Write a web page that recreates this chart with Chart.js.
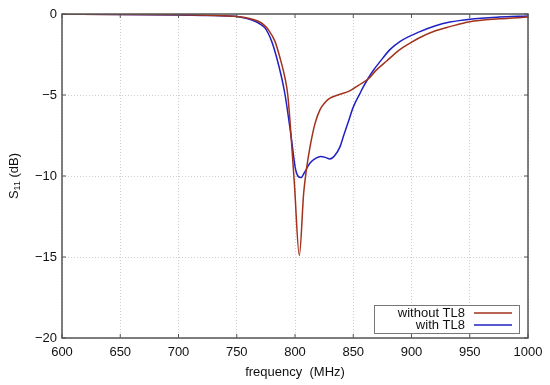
<!DOCTYPE html>
<html>
<head>
<meta charset="utf-8">
<script src="https://cdn.jsdelivr.net/npm/chart.js@4/dist/chart.umd.min.js"></script>
<style>
  html, body { margin: 0; padding: 0; background: #fff; }
  #wrap { width: 550px; height: 385px; }
</style>
</head>
<body>
<div id="wrap"><canvas id="s11Chart" width="550" height="385"></canvas></div>
<script>
// series
const freqWithout = [600, 650, 700, 730, 750, 760, 768.5, 773, 777.1, 782.8, 787.1, 791.4, 793.8, 796, 799.5, 803.7, 807.5, 810, 812.9, 817.2, 821.5, 826, 830, 837, 847, 854.5, 863, 870, 878.7, 890, 898.7, 907.3, 920, 933, 950, 975, 1000];
const s11Without = [-0.02, -0.03, -0.05, -0.09, -0.16, -0.26, -0.45, -0.66, -0.97, -1.69, -2.7, -3.95, -5.0, -6.9, -10.5, -14.9, -11.0, -9.5, -8.2, -6.75, -5.9, -5.45, -5.2, -5.0, -4.75, -4.4, -4.0, -3.45, -2.9, -2.2, -1.8, -1.45, -1.05, -0.78, -0.48, -0.3, -0.19];

const freqWith = [600, 650, 700, 730, 748.5, 758, 765.7, 770, 774.2, 780, 784.3, 788.6, 791.5, 797.1, 800, 802.5, 805.2, 808, 812.9, 818, 822, 826, 830, 834, 838.6, 842, 846, 850, 855.8, 858.6, 863, 867, 873, 881.5, 890, 907.3, 920, 933, 950, 975, 1000];
const s11With = [-0.02, -0.03, -0.06, -0.1, -0.14, -0.27, -0.45, -0.62, -0.86, -1.69, -2.7, -3.95, -5.0, -7.8, -9.4, -10.0, -10.1, -9.8, -9.2, -8.9, -8.8, -8.85, -8.95, -8.75, -8.2, -7.45, -6.6, -5.75, -4.9, -4.5, -3.95, -3.5, -2.94, -2.2, -1.7, -1.09, -0.74, -0.5, -0.32, -0.19, -0.12];

const xTicks = [600, 650, 700, 750, 800, 850, 900, 950, 1000];
const yTicks = [0, -5, -10, -15, -20];
const seriesNames = ['without TL8', 'with TL8'];

const FONT = '"Liberation Sans", Arial, sans-serif';
const RED = '#a2321c';
const BLUE = '#2020c4';

function toPoints(xs, ys) {
    return xs.map((x, i) => ({ x: x, y: ys[i] }));
}

// frame, inward ticks, axis titles and legend box
const framePlugin = {
    id: 'frame',
    afterDraw(chart) {
        const ctx = chart.ctx;
        const a = chart.chartArea;
        const xs = chart.scales.x;
        const ys = chart.scales.y;
        ctx.save();
        ctx.strokeStyle = '#555';
        ctx.lineWidth = 1.5;
        ctx.strokeRect(a.left, a.top, a.right - a.left, a.bottom - a.top);

        ctx.lineWidth = 1;
        xTicks.forEach(v => {
            const px = xs.getPixelForValue(v);
            ctx.beginPath();
            ctx.moveTo(px, a.bottom); ctx.lineTo(px, a.bottom - 4);
            ctx.moveTo(px, a.top); ctx.lineTo(px, a.top + 4);
            ctx.stroke();
        });
        yTicks.forEach(v => {
            const py = ys.getPixelForValue(v);
            ctx.beginPath();
            ctx.moveTo(a.left, py); ctx.lineTo(a.left + 4, py);
            ctx.moveTo(a.right, py); ctx.lineTo(a.right - 4, py);
            ctx.stroke();
        });

        // x title
        ctx.fillStyle = '#111';
        ctx.font = '13px ' + FONT;
        ctx.textAlign = 'center';
        ctx.textBaseline = 'middle';
        ctx.fillText('frequency  (MHz)', (a.left + a.right) / 2, 372);

        // y title with subscript
        ctx.translate(14, 176);
        ctx.rotate(-Math.PI / 2);
        const w1 = ctx.measureText('S').width;
        ctx.font = '9px ' + FONT;
        const w2 = ctx.measureText('11').width;
        ctx.font = '13px ' + FONT;
        const w3 = ctx.measureText(' (dB)').width;
        let sx = -(w1 + w2 + w3) / 2;
        ctx.textAlign = 'left';
        ctx.fillText('S', sx, 0);
        sx += w1;
        ctx.font = '9px ' + FONT;
        ctx.fillText('11', sx, 4);
        sx += w2;
        ctx.font = '13px ' + FONT;
        ctx.fillText(' (dB)', sx, 0);
        ctx.restore();

        // legend
        ctx.save();
        ctx.fillStyle = '#fff';
        ctx.fillRect(374, 305, 145, 28);
        ctx.strokeStyle = '#777';
        ctx.lineWidth = 1;
        ctx.strokeRect(374.5, 305.5, 145, 28);
        ctx.font = '13px ' + FONT;
        ctx.fillStyle = '#111';
        ctx.textAlign = 'right';
        ctx.textBaseline = 'middle';
        const colors = [RED, BLUE];
        seriesNames.forEach((name, i) => {
            const ly = 313 + i * 12;
            ctx.fillText(name, 465, ly);
            ctx.strokeStyle = colors[i];
            ctx.lineWidth = 1.5;
            ctx.beginPath();
            ctx.moveTo(474, ly); ctx.lineTo(512, ly);
            ctx.stroke();
        });
        ctx.restore();
    }
};

const ctx = document.getElementById('s11Chart').getContext('2d');
new Chart(ctx, {
    type: 'line',
    data: {
        datasets: [
            {
                label: seriesNames[0],
                data: toPoints(freqWithout, s11Without),
                borderColor: RED,
                borderWidth: 1.5,
                pointRadius: 0,
                cubicInterpolationMode: 'monotone',
                fill: false
            },
            {
                label: seriesNames[1],
                data: toPoints(freqWith, s11With),
                borderColor: BLUE,
                borderWidth: 1.5,
                pointRadius: 0,
                cubicInterpolationMode: 'monotone',
                fill: false
            }
        ]
    },
    options: {
        responsive: false,
        animation: false,
        layout: { padding: { top: 14, right: 22, left: 0, bottom: 0 } },
        plugins: {
            legend: { display: false },
            tooltip: { enabled: false }
        },
        scales: {
            x: {
                type: 'linear',
                min: 600,
                max: 1000,
                afterFit: s => { s.height = 47; },
                afterBuildTicks: s => { s.ticks = xTicks.map(v => ({ value: v })); },
                ticks: {
                    padding: 7,
                    color: '#111',
                    font: { family: FONT, size: 13 },
                    maxRotation: 0,
                    callback: v => String(v)
                },
                grid: {
                    color: '#cfcfcf',
                    lineWidth: 1,
                    drawTicks: false
                },
                border: { display: false, dash: [1, 2] }
            },
            y: {
                type: 'linear',
                min: -20,
                max: 0,
                afterFit: s => { s.width = 62; },
                afterBuildTicks: s => { s.ticks = yTicks.map(v => ({ value: v })); },
                ticks: {
                    padding: 5,
                    color: '#111',
                    font: { family: FONT, size: 13 },
                    callback: v => String(v).replace('-', '\u2212')
                },
                grid: {
                    color: '#cfcfcf',
                    lineWidth: 1,
                    drawTicks: false
                },
                border: { display: false, dash: [1, 2] }
            }
        }
    },
    plugins: [framePlugin]
});
</script>
</body>
</html>
